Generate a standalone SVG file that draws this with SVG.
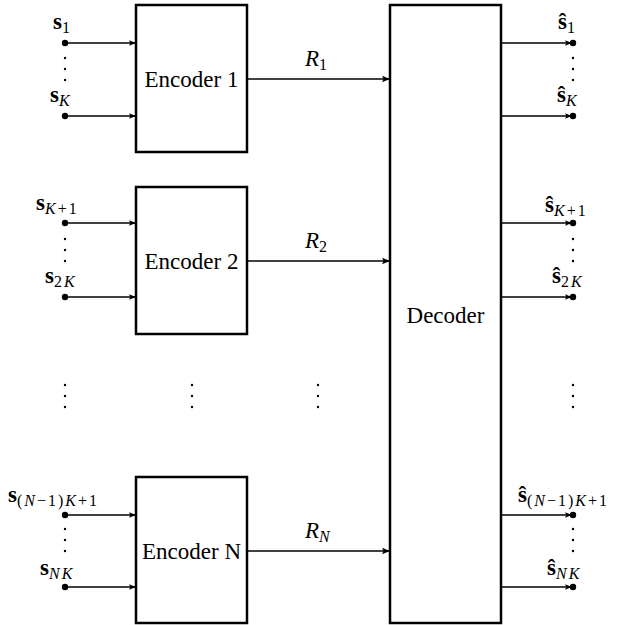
<svg xmlns="http://www.w3.org/2000/svg" width="628" height="625" viewBox="0 0 628 625">
<defs>
<marker id="ah" viewBox="0 0 10 10" refX="10" refY="5" markerWidth="7" markerHeight="7" markerUnits="userSpaceOnUse" orient="auto">
<path d="M0,1 L10,5 L0,9 L2,5 Z" fill="#000"/>
</marker>
<marker id="ah2" viewBox="0 0 10 10" refX="10" refY="5" markerWidth="8" markerHeight="8" markerUnits="userSpaceOnUse" orient="auto">
<path d="M0,1 L10,5 L0,9 L2,5 Z" fill="#000"/>
</marker>
</defs>
<style>
.box{fill:#fff;stroke:#000;stroke-width:2.5}
.ln{stroke:#000;stroke-width:1.6;fill:none}
text{font-family:'Liberation Serif','Times New Roman',Times,'DejaVu Serif',serif;fill:#000}
.lbl{font-size:23px}
.m{font-size:23px}
.b{font-weight:bold}
.i{font-style:italic}
.sub{font-size:16px;letter-spacing:2px}
.dot{fill:#000}
.sd{fill:#000}
</style>
<rect width="628" height="625" fill="#fff"/>

<g id="enc1">
<rect class="box" x="136" y="5" width="111" height="147"/>
<text class="lbl" x="191.5" y="87" text-anchor="middle">Encoder 1</text>
</g>
<g id="enc2">
<rect class="box" x="136" y="187" width="111" height="147"/>
<text class="lbl" x="191.5" y="269" text-anchor="middle">Encoder 2</text>
</g>
<g id="encN">
<rect class="box" x="136" y="477" width="111" height="146"/>
<text class="lbl" x="191.5" y="559" text-anchor="middle">Encoder N</text>
</g>
<g id="dec">
<rect class="box" x="390" y="5" width="111" height="618"/>
<text class="lbl" x="445.5" y="323" text-anchor="middle">Decoder</text>
</g>

<g id="connectors">
<line class="ln" x1="65" y1="43" x2="136" y2="43" marker-end="url(#ah)"/>
<line class="ln" x1="65" y1="116" x2="136" y2="116" marker-end="url(#ah)"/>
<line class="ln" x1="65" y1="223" x2="136" y2="223" marker-end="url(#ah)"/>
<line class="ln" x1="65" y1="297" x2="136" y2="297" marker-end="url(#ah)"/>
<line class="ln" x1="65" y1="515" x2="136" y2="515" marker-end="url(#ah)"/>
<line class="ln" x1="65" y1="587" x2="136" y2="587" marker-end="url(#ah)"/>

<line class="ln" x1="247" y1="79" x2="390" y2="79" marker-end="url(#ah2)"/>
<line class="ln" x1="247" y1="261" x2="390" y2="261" marker-end="url(#ah2)"/>
<line class="ln" x1="247" y1="551" x2="390" y2="551" marker-end="url(#ah2)"/>

<line class="ln" x1="501" y1="43" x2="572" y2="43" marker-end="url(#ah)"/>
<line class="ln" x1="501" y1="116" x2="572" y2="116" marker-end="url(#ah)"/>
<line class="ln" x1="501" y1="223" x2="572" y2="223" marker-end="url(#ah)"/>
<line class="ln" x1="501" y1="297" x2="572" y2="297" marker-end="url(#ah)"/>
<line class="ln" x1="501" y1="515" x2="572" y2="515" marker-end="url(#ah)"/>
<line class="ln" x1="501" y1="587" x2="572" y2="587" marker-end="url(#ah)"/>
</g>

<g id="terminals">
<circle class="dot" cx="65" cy="43" r="3.2"/>
<circle class="dot" cx="65" cy="116" r="3.2"/>
<circle class="dot" cx="65" cy="223" r="3.2"/>
<circle class="dot" cx="65" cy="297" r="3.2"/>
<circle class="dot" cx="65" cy="515" r="3.2"/>
<circle class="dot" cx="65" cy="587" r="3.2"/>
<circle class="dot" cx="573" cy="43" r="3.2"/>
<circle class="dot" cx="573" cy="116" r="3.2"/>
<circle class="dot" cx="573" cy="223" r="3.2"/>
<circle class="dot" cx="573" cy="297" r="3.2"/>
<circle class="dot" cx="573" cy="515" r="3.2"/>
<circle class="dot" cx="573" cy="587" r="3.2"/>
</g>

<g id="vdots">
<circle class="sd" cx="65" cy="58" r="1.2"/><circle class="sd" cx="65" cy="69" r="1.2"/><circle class="sd" cx="65" cy="80" r="1.2"/>
<circle class="sd" cx="573" cy="58" r="1.2"/><circle class="sd" cx="573" cy="69" r="1.2"/><circle class="sd" cx="573" cy="80" r="1.2"/>
<circle class="sd" cx="65" cy="239" r="1.2"/><circle class="sd" cx="65" cy="250" r="1.2"/><circle class="sd" cx="65" cy="261" r="1.2"/>
<circle class="sd" cx="573" cy="239" r="1.2"/><circle class="sd" cx="573" cy="250" r="1.2"/><circle class="sd" cx="573" cy="261" r="1.2"/>
<circle class="sd" cx="65" cy="529" r="1.2"/><circle class="sd" cx="65" cy="540" r="1.2"/><circle class="sd" cx="65" cy="551" r="1.2"/>
<circle class="sd" cx="573" cy="529" r="1.2"/><circle class="sd" cx="573" cy="540" r="1.2"/><circle class="sd" cx="573" cy="551" r="1.2"/>
<circle class="sd" cx="65" cy="385" r="1.2"/><circle class="sd" cx="65" cy="396" r="1.2"/><circle class="sd" cx="65" cy="407" r="1.2"/>
<circle class="sd" cx="192" cy="385" r="1.2"/><circle class="sd" cx="192" cy="396" r="1.2"/><circle class="sd" cx="192" cy="407" r="1.2"/>
<circle class="sd" cx="318" cy="385" r="1.2"/><circle class="sd" cx="318" cy="396" r="1.2"/><circle class="sd" cx="318" cy="407" r="1.2"/>
<circle class="sd" cx="573" cy="385" r="1.2"/><circle class="sd" cx="573" cy="396" r="1.2"/><circle class="sd" cx="573" cy="407" r="1.2"/>
</g>

<g id="labels">
<text class="m" x="53" y="29"><tspan class="b">s</tspan><tspan class="sub" dy="4">1</tspan></text>
<text class="m" x="50" y="102"><tspan class="b">s</tspan><tspan class="sub i" dy="4">K</tspan></text>
<text class="m" x="36" y="210"><tspan class="b">s</tspan><tspan class="sub" dy="4"><tspan class="i">K</tspan>+1</tspan></text>
<text class="m" x="45" y="283"><tspan class="b">s</tspan><tspan class="sub" dy="4">2<tspan class="i">K</tspan></tspan></text>
<text class="m" x="8" y="502"><tspan class="b">s</tspan><tspan class="sub" dy="4">(<tspan class="i">N</tspan>−1)<tspan class="i">K</tspan>+1</tspan></text>
<text class="m" x="40" y="575"><tspan class="b">s</tspan><tspan class="sub" dy="4"><tspan class="i">NK</tspan></tspan></text>

<text class="m" x="558" y="29"><tspan class="b">ŝ</tspan><tspan class="sub" dy="4">1</tspan></text>
<text class="m" x="557" y="102"><tspan class="b">ŝ</tspan><tspan class="sub i" dy="4">K</tspan></text>
<text class="m" x="545" y="212"><tspan class="b">ŝ</tspan><tspan class="sub" dy="4"><tspan class="i">K</tspan>+1</tspan></text>
<text class="m" x="552" y="283"><tspan class="b">ŝ</tspan><tspan class="sub" dy="4">2<tspan class="i">K</tspan></tspan></text>
<text class="m" x="518" y="502"><tspan class="b">ŝ</tspan><tspan class="sub" dy="4">(<tspan class="i">N</tspan>−1)<tspan class="i">K</tspan>+1</tspan></text>
<text class="m" x="547" y="575"><tspan class="b">ŝ</tspan><tspan class="sub" dy="4"><tspan class="i">NK</tspan></tspan></text>

<text class="m" x="305" y="66"><tspan class="i">R</tspan><tspan class="sub" dy="4">1</tspan></text>
<text class="m" x="305" y="248"><tspan class="i">R</tspan><tspan class="sub" dy="4">2</tspan></text>
<text class="m" x="305" y="538"><tspan class="i">R</tspan><tspan class="sub i" dy="4">N</tspan></text>
</g>
</svg>
